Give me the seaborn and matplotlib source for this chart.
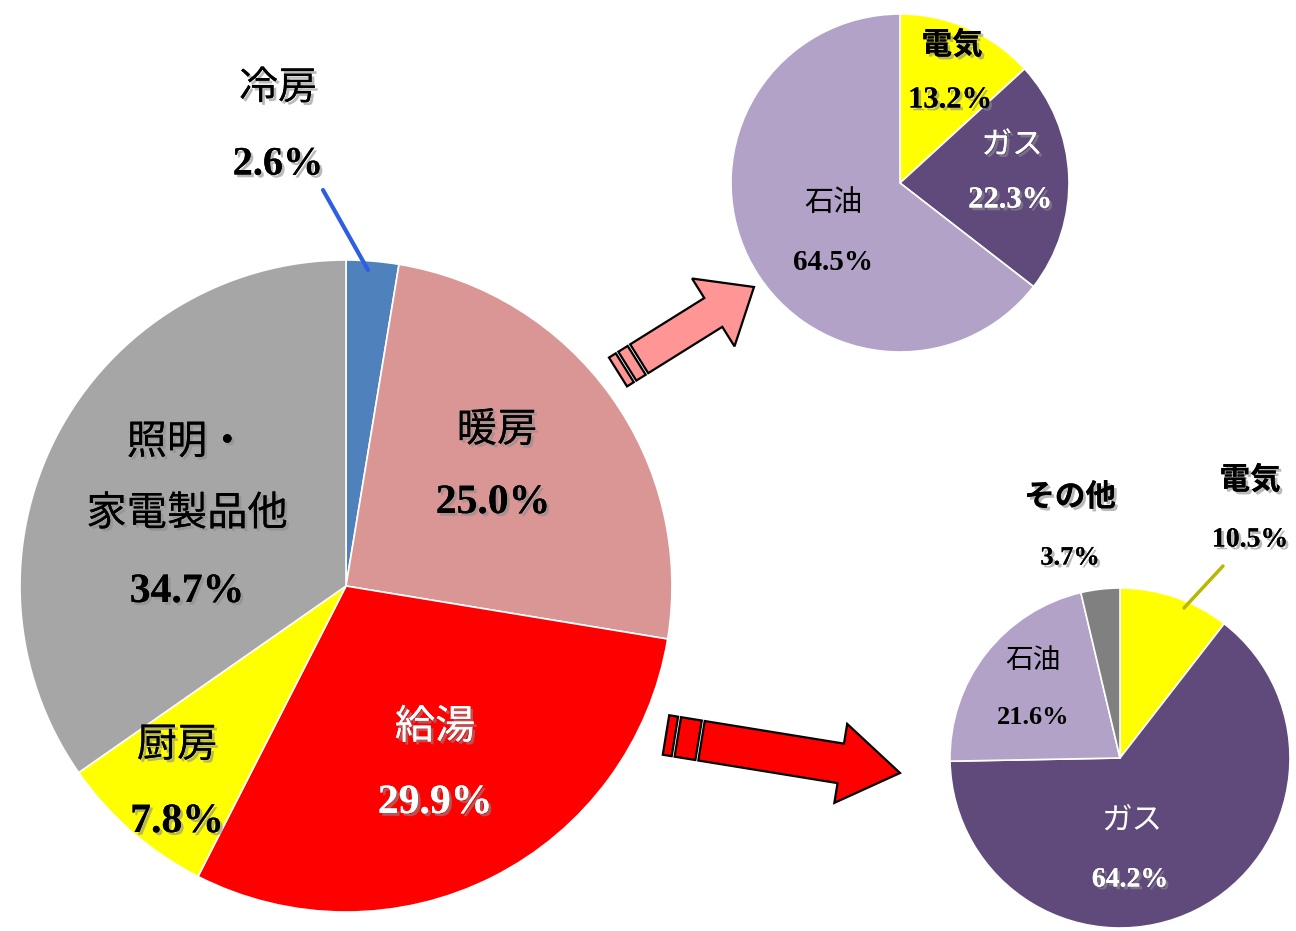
import numpy as np
import matplotlib
matplotlib.use("Agg")
import matplotlib.pyplot as plt
import matplotlib.patheffects as pe
from matplotlib.patches import Polygon
import seaborn as sns

# ---- data ----
main_labels = ["冷房", "暖房", "給湯", "厨房", "照明・\n家電製品他"]
main_values = [2.6, 25.0, 29.9, 7.8, 34.7]
main_colors = ["#4F81BD", "#D99694", "#FF0000", "#FFFF00", "#A6A6A6"]

heat_labels = ["電気", "ガス", "石油"]
heat_values = [13.2, 22.3, 64.5]
heat_colors = ["#FFFF00", "#604A7B", "#B3A2C7"]

water_labels = ["電気", "ガス", "石油", "その他"]
water_values = [10.5, 64.2, 21.6, 3.7]
water_colors = ["#FFFF00", "#604A7B", "#B3A2C7", "#808080"]

sns.set_theme(style="white")
plt.rcParams["font.family"] = ["Noto Sans CJK JP", "DejaVu Sans"]

W, H = 1296, 931
fig = plt.figure(figsize=(W / 100, H / 100), dpi=100)
ax = fig.add_axes([0, 0, 1, 1])


def Y(y):
    return H - y


shadow = [pe.withSimplePatchShadow(offset=(2, -2), shadow_rgbFace="#8C8C8C", alpha=0.6), pe.Normal()]


def jp(x, y, s, size, color="black", weight="normal", fx=True):
    ax.text(x, Y(y), s, ha="center", va="center", fontsize=size, color=color,
            family=["Noto Sans CJK JP", "DejaVu Sans"], fontweight=weight,
            path_effects=shadow if fx else None, linespacing=1.95)


def num(x, y, v, size, color="black", fx=True):
    ax.text(x, Y(y), f"{v:.1f}%", ha="center", va="center", fontsize=size, color=color,
            family=["Liberation Serif", "DejaVu Serif"], fontweight="bold",
            path_effects=shadow if fx else None)


def pie(values, colors, cx, cy, r):
    ax.pie(values, colors=colors, center=(cx, Y(cy)), radius=r, startangle=90,
           counterclock=False, wedgeprops=dict(edgecolor="white", linewidth=1.2))


pie(main_values, main_colors, 346, 586, 326)
pie(heat_values, heat_colors, 900, 183, 169)
pie(water_values, water_colors, 1120, 758, 170)


def arrow(tail, tip, shaft_w, head_w, head_len, stripes, shaft_start, color):
    t = np.array([tail[0], Y(tail[1])], float)
    p = np.array([tip[0], Y(tip[1])], float)
    d = p - t
    L = np.hypot(*d)
    u = d / L
    n = np.array([-u[1], u[0]])

    def pt(a, b):
        return t + u * a + n * b

    hw, sw = head_w / 2, shaft_w / 2
    body = [pt(shaft_start, sw), pt(L - head_len, sw), pt(L - head_len, hw), pt(L, 0),
            pt(L - head_len, -hw), pt(L - head_len, -sw), pt(shaft_start, -sw)]
    ax.add_patch(Polygon(body, closed=True, facecolor=color, edgecolor="black", lw=1.6, zorder=5))
    for a0, a1 in stripes:
        ax.add_patch(Polygon([pt(a0, sw), pt(a1, sw), pt(a1, -sw), pt(a0, -sw)], closed=True,
                             facecolor=color, edgecolor="black", lw=1.6, zorder=5))


arrow((618, 372), (754, 287), 34, 80, 48, [(0, 8), (11, 22)], 25, "#FF9595")
arrow((666, 735), (900, 773), 40, 80, 60, [(0, 9), (12, 33)], 36, "#FF0000")

# leader lines
ax.plot([323, 368], [Y(190), Y(270)], color="#2F5FE0", lw=3, zorder=4)
ax.plot([1223, 1184], [Y(566), Y(608)], color="#B8B800", lw=2.5, zorder=4)

# main pie labels
jp(278, 88, main_labels[0], 28)
num(278, 165, main_values[0], 29)
jp(497, 430, main_labels[1], 29)
num(493, 503, main_values[1], 30)
jp(435, 727, main_labels[2], 29, color="white")
num(435, 803, main_values[2], 30, color="white")
jp(177, 745, main_labels[3], 29)
num(177, 822, main_values[3], 30)
jp(187, 478, main_labels[4], 29)
num(187, 592, main_values[4], 30)

# heating breakdown labels
jp(952, 45, heat_labels[0], 22, weight="bold")
num(950, 100, heat_values[0], 22)
jp(1012, 145, heat_labels[1], 22, color="white")
num(1010, 200, heat_values[1], 22, color="white")
jp(833, 203, heat_labels[2], 21, fx=False)
num(833, 263, heat_values[2], 21, fx=False)

# hot-water breakdown labels
jp(1250, 480, water_labels[0], 22, weight="bold")
num(1250, 540, water_values[0], 20)
jp(1132, 820, water_labels[1], 22, color="white", fx=False)
num(1130, 880, water_values[1], 20, color="white")
jp(1033, 660, water_labels[2], 20, fx=False)
num(1033, 718, water_values[2], 19, fx=False)
jp(1070, 497, water_labels[3], 22, weight="bold")
num(1070, 558, water_values[3], 19)

ax.set_xlim(0, W)
ax.set_ylim(0, H)
ax.set_aspect("equal")
ax.axis("off")
fig.savefig("out.png", dpi=100)
